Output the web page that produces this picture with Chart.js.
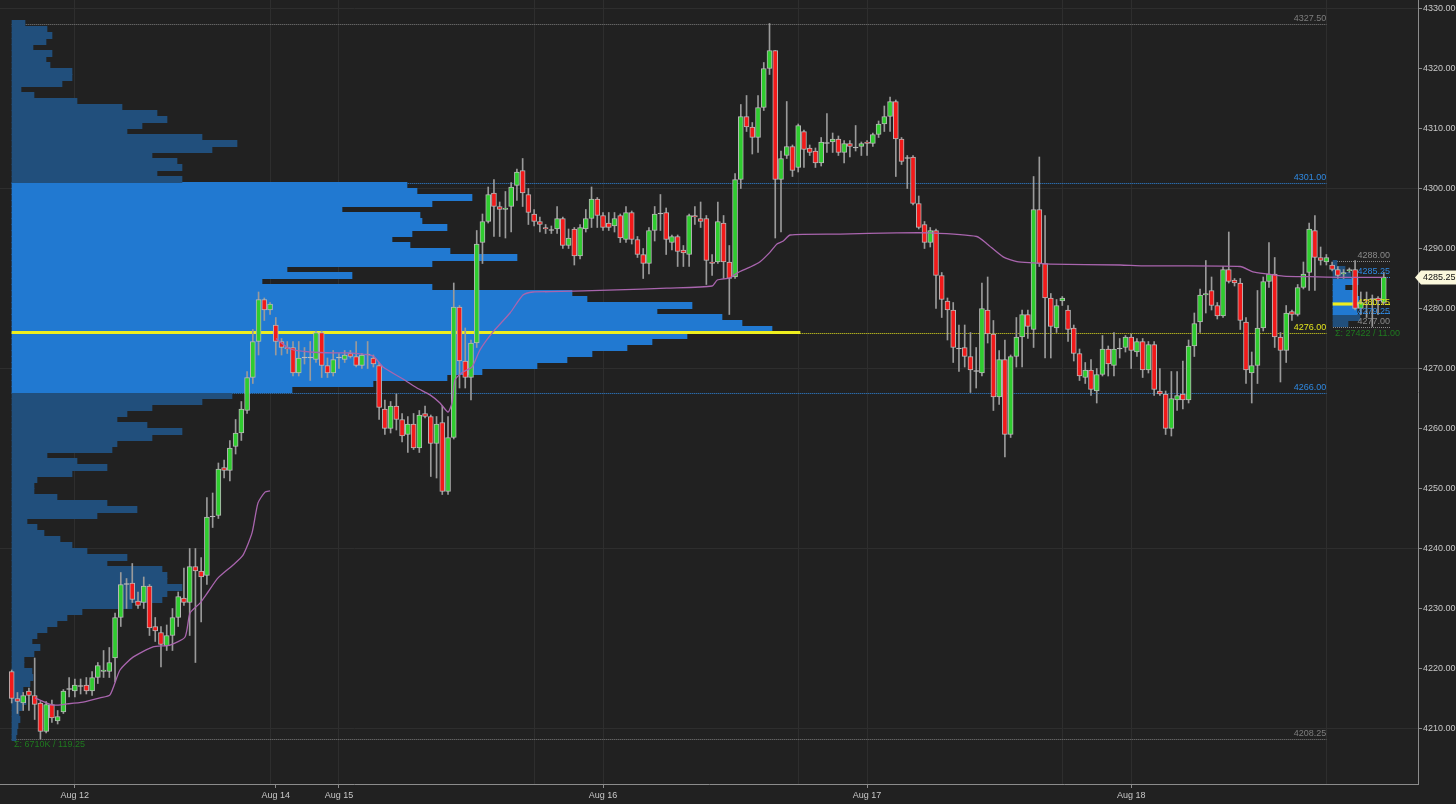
<!DOCTYPE html>
<html>
<head>
<meta charset="utf-8">
<script src="https://cdn.jsdelivr.net/npm/chart.js@4.4.0/dist/chart.umd.min.js"></script>
<style>
  html, body { margin: 0; padding: 0; background: #212121; }
  canvas { display: block; }
</style>
</head>
<body>
<canvas id="esChart" width="1456" height="804"></canvas>
<script>
// 30 min bars
var opens = [
  4219.5, 4215, 4214.25, 4216.25, 4215.5, 4214.25, 4209.5, 4214, 4211.25, 4212.75,
  4216.5, 4216.25, 4217, 4217.25, 4216.25, 4218.5, 4219.5, 4219.5, 4221.75, 4228.5,
  4234, 4234.25, 4231.25, 4231, 4233.75, 4227, 4226, 4223.75, 4225.5, 4228.5,
  4231.75, 4231, 4237, 4236.25, 4235.5, 4245.25, 4245.5, 4253.5, 4253, 4257,
  4259.25, 4263, 4268.5, 4274.5, 4281.5, 4279.75, 4277.25, 4274.5, 4273.5, 4273.5,
  4269.25, 4271.75, 4271.75, 4271.5, 4276, 4270.5, 4269.25, 4271.75, 4271.5, 4272.5,
  4272, 4270.5, 4272.25, 4271.75, 4270.5, 4263.25, 4260, 4263.75, 4261.5, 4259,
  4260.75, 4256.75, 4262.5, 4262, 4257.5, 4261, 4249.5, 4258.5, 4280.25, 4271.25,
  4268.5, 4274.25, 4291, 4294.5, 4299.25, 4297, 4296.5, 4297, 4300.5, 4303,
  4299, 4295.75, 4294.5, 4293.5, 4293, 4293.25, 4295, 4290.5, 4293.25, 4288.75,
  4293.25, 4295, 4298.25, 4295.5, 4294.25, 4293.75, 4295.5, 4291.5, 4296, 4291.5,
  4289, 4287.5, 4293, 4295.75, 4296, 4291, 4292, 4289.75, 4289, 4295.5,
  4295, 4295, 4287.75, 4287.75, 4294.25, 4287.75, 4285.25, 4301.5, 4312, 4310.25,
  4308.5, 4313.5, 4320, 4323, 4301.5, 4305.5, 4307, 4303.5, 4309.5, 4306.75,
  4306.25, 4304.25, 4307.5, 4307.75, 4308.25, 4306, 4307.5, 4306.75, 4307, 4307.75,
  4307.5, 4309, 4310.75, 4312, 4314.5, 4308.25, 4305, 4305.25, 4297.5, 4294,
  4291, 4293, 4285.5, 4281.25, 4279.75, 4273.25, 4273.5, 4272, 4269.5, 4269.25,
  4279.75, 4275.75, 4265.25, 4271.5, 4259, 4272, 4275.25, 4279, 4276.5, 4296.5,
  4287.5, 4281.75, 4276.75, 4281.25, 4279.75, 4276.75, 4272.5, 4268.5, 4269.75, 4266.25,
  4269, 4273.25, 4270.5, 4273.25, 4273.5, 4275.25, 4272.75, 4274.5, 4269.75, 4274,
  4266.25, 4265.75, 4260, 4264.75, 4265.75, 4264.75, 4273.75, 4277.75, 4282.25, 4283,
  4280.5, 4278.75, 4286.5, 4284.75, 4284.25, 4277.75, 4269.25, 4270.5, 4276.75, 4284.5,
  4285.75, 4275.25, 4273, 4279.5, 4279, 4283.5, 4286, 4293, 4288.5, 4287.75,
  4287.25, 4286.5, 4285.75, 4286.25, 4286.5, 4280, 4281.5, 4281.5, 4281.75, 4281
];
var highs = [
  4219.75, 4216, 4216, 4216.75, 4221.75, 4214.5, 4214.5, 4214.75, 4213, 4216.5,
  4218.5, 4218.25, 4218.25, 4218.5, 4219.5, 4221, 4223, 4223.5, 4229.25, 4236,
  4235, 4237.5, 4232.75, 4235.25, 4234, 4228.5, 4227, 4227.25, 4230, 4232.75,
  4236.75, 4240, 4240, 4238.5, 4248.5, 4249.25, 4254.25, 4254.75, 4258, 4261.5,
  4264.5, 4269.5, 4276.5, 4282.75, 4281.75, 4281, 4278.5, 4275, 4274.5, 4274.5,
  4274.5, 4273.5, 4274.5, 4276.25, 4276.25, 4271.75, 4273, 4272.5, 4273, 4273,
  4274.5, 4272.5, 4274.5, 4272.25, 4271, 4264.75, 4264.5, 4265.75, 4262.5, 4262,
  4262.5, 4263, 4263.75, 4262.25, 4262, 4263.75, 4262, 4284.25, 4280.5, 4276.75,
  4274.75, 4293, 4295.75, 4300.25, 4301.5, 4297.75, 4299.5, 4301, 4303.25, 4305,
  4300, 4296.5, 4295.25, 4294, 4293.75, 4297, 4295.25, 4293.25, 4293.5, 4294,
  4296.5, 4300.25, 4298.5, 4296, 4296, 4296, 4295.75, 4297, 4296.25, 4292,
  4290, 4293.5, 4297, 4299, 4296.75, 4292.25, 4292.25, 4290.5, 4295.75, 4297,
  4297.75, 4295.5, 4289, 4297.75, 4295.5, 4290.5, 4302.5, 4314, 4315.5, 4311,
  4315.5, 4321, 4327.5, 4323, 4306.25, 4314.5, 4307.25, 4310.75, 4309.75, 4307.25,
  4306.75, 4308.5, 4312.5, 4309.25, 4308.75, 4308, 4308, 4310.5, 4307.75, 4308,
  4309.25, 4311.25, 4313.75, 4315.25, 4314.75, 4308.5, 4305.5, 4305.5, 4298.75, 4294.5,
  4293.5, 4293.25, 4286, 4281.75, 4281, 4277.25, 4277.25, 4276, 4273.5, 4284.25,
  4285.25, 4278, 4273, 4274.75, 4272.25, 4278.5, 4279.75, 4279.75, 4302, 4305.25,
  4295.5, 4282.5, 4281.5, 4282, 4280.5, 4277.25, 4273.25, 4271, 4271.5, 4270,
  4275.5, 4273.75, 4276, 4275, 4275.5, 4275.75, 4275, 4275, 4274.5, 4274.5,
  4270, 4266.25, 4269.5, 4269.5, 4271.25, 4274.75, 4279.25, 4283.25, 4288, 4285.25,
  4281, 4287, 4292.75, 4285, 4285, 4278.5, 4272.75, 4283, 4285.25, 4291,
  4288.5, 4276, 4280.5, 4279.75, 4284, 4287.75, 4294.25, 4295.5, 4290.25, 4289,
  4287.75, 4287, 4286.5, 4286.75, 4288, 4282.75, 4282.75, 4282.25, 4282, 4286
];
var lows = [
  4214.25, 4212.5, 4213, 4213, 4211.5, 4208.25, 4209.25, 4211, 4210.75, 4212.5,
  4215.25, 4215.25, 4215.75, 4215.75, 4215.5, 4217.5, 4218.5, 4218.5, 4217.75, 4227,
  4230, 4231, 4230, 4230, 4225.5, 4224.5, 4220.25, 4223, 4223, 4227,
  4230.5, 4225.5, 4221, 4227.75, 4234, 4243.5, 4245, 4251.75, 4251.25, 4255.75,
  4258, 4262.5, 4267.5, 4272.25, 4278, 4279, 4272.25, 4272.25, 4272.5, 4268.75,
  4268.75, 4270.75, 4268, 4271, 4268.5, 4268.5, 4268.75, 4270, 4271, 4271.75,
  4270.25, 4270, 4270, 4270.25, 4261.5, 4259, 4259.25, 4259.75, 4257.75, 4256,
  4256.5, 4256, 4261.75, 4252, 4251.75, 4249, 4249, 4258.25, 4266.75, 4266.75,
  4264.75, 4273.5, 4287.5, 4294.25, 4292, 4292, 4291.75, 4292.75, 4298, 4297,
  4294, 4293.75, 4292.75, 4292.5, 4292.5, 4292.5, 4290, 4290, 4287.25, 4288.25,
  4292.75, 4293.5, 4293.5, 4293, 4293, 4292.75, 4291, 4291, 4290.75, 4288.5,
  4285, 4285.75, 4291.25, 4293, 4289, 4289.75, 4287, 4287, 4287, 4294,
  4293.5, 4284, 4285.5, 4287.5, 4285, 4279, 4285, 4300, 4309.5, 4305.75,
  4306, 4313, 4319, 4291.75, 4292.75, 4305, 4302, 4302.75, 4303.5, 4305.5,
  4303.5, 4303.75, 4306, 4306, 4305.5, 4304.25, 4305.25, 4306.25, 4305.5, 4305.5,
  4307, 4308.5, 4309.5, 4309.5, 4302, 4304, 4300, 4297.25, 4293.25, 4290,
  4290.25, 4280, 4278.5, 4274.75, 4271, 4269.5, 4270.25, 4266, 4266.75, 4268.75,
  4274.25, 4263, 4264, 4255.25, 4258.5, 4270.25, 4270.25, 4275, 4273.5, 4287,
  4271.75, 4271.75, 4276, 4280.5, 4274.5, 4271.25, 4268, 4267.5, 4265.5, 4264.25,
  4268.75, 4268.75, 4268.75, 4271.75, 4272.75, 4270, 4272, 4268.5, 4269.25, 4265.5,
  4265.5, 4259, 4258.75, 4263, 4263.25, 4264.25, 4272, 4276, 4279.25, 4279.75,
  4278.25, 4278.5, 4284.25, 4283.75, 4276.5, 4267.5, 4264.25, 4267.5, 4276.25, 4283.5,
  4273.5, 4267.75, 4271, 4278, 4278.75, 4283.25, 4283, 4283, 4287.25, 4287.25,
  4286.25, 4285, 4285, 4286, 4279.75, 4279, 4278.5, 4277, 4279, 4280.75
];
var closes = [
  4215, 4214.5, 4215.5, 4215.5, 4214, 4209.5, 4214, 4211.75, 4212, 4216.25,
  4216.5, 4217.25, 4217, 4216.25, 4218.5, 4220.5, 4219.75, 4221, 4228.5, 4234,
  4234, 4231.5, 4230.5, 4233.75, 4226.75, 4226.25, 4224, 4225.5, 4228.5, 4232,
  4231, 4237, 4236.25, 4235.25, 4245.25, 4245.25, 4253.25, 4253, 4256.75, 4259.25,
  4263.25, 4268.5, 4274.5, 4281.5, 4279.75, 4280.75, 4274.5, 4273.5, 4273.25, 4269.25,
  4271.75, 4271.75, 4271.75, 4276, 4270.5, 4269.25, 4271.5, 4271.75, 4272.25, 4272,
  4270.5, 4272.25, 4272.25, 4270.75, 4263.5, 4260, 4263.75, 4261.5, 4258.75, 4260.75,
  4256.75, 4262.25, 4262, 4257.5, 4260.75, 4249.5, 4258.5, 4280.25, 4271.25, 4268.5,
  4274.25, 4290.75, 4294.5, 4299, 4297, 4296.5, 4296.75, 4300.25, 4302.75, 4299.25,
  4296, 4294.5, 4294, 4293.25, 4293, 4295, 4290.5, 4291.75, 4288.75, 4293.5,
  4295, 4298.25, 4295.5, 4293.5, 4293.5, 4295, 4291.75, 4296, 4291.5, 4289,
  4287.5, 4293, 4295.75, 4295.75, 4291.5, 4292, 4289.5, 4289.25, 4295.5, 4295.25,
  4294.5, 4288, 4287.5, 4294.5, 4287.75, 4285, 4301.5, 4312, 4310.25, 4308.5,
  4313.5, 4320, 4323, 4301.5, 4305, 4307, 4303, 4310.5, 4306.5, 4306,
  4304.25, 4307.75, 4307.5, 4308.25, 4306, 4307.5, 4307, 4306.75, 4307.5, 4307.5,
  4309, 4310.75, 4312, 4314.5, 4308.25, 4304.5, 4305, 4297.5, 4293.5, 4291,
  4293, 4285.5, 4281.5, 4279.75, 4273.5, 4273.25, 4272, 4269.75, 4269.5, 4280,
  4275.75, 4265.25, 4271.5, 4259, 4272, 4275.25, 4279, 4277, 4296.5, 4287.5,
  4281.75, 4277, 4280.5, 4281.75, 4276.5, 4272.5, 4268.75, 4269.75, 4266.5, 4269,
  4273.25, 4270.75, 4273.25, 4273.25, 4275.25, 4273, 4274.5, 4269.75, 4274, 4266.5,
  4265.75, 4260, 4265, 4265.5, 4264.75, 4273.75, 4277.5, 4282.25, 4282.5, 4280.5,
  4278.75, 4286.5, 4284.5, 4284.25, 4278, 4269.75, 4270.5, 4276.75, 4284.5, 4285.75,
  4275.25, 4273, 4279.25, 4279, 4283.5, 4285.75, 4293.25, 4288.5, 4288, 4288.5,
  4286.5, 4285.5, 4286, 4286.5, 4280, 4281, 4281.25, 4281.5, 4281.25, 4285.25
];

// axis labels, in bar units
var dayLabels = ['Aug 12', 'Aug 14', 'Aug 15', 'Aug 16', 'Aug 17', 'Aug 18'];
var dayBars = [11, 46, 57, 103, 149, 195];
var gridBars = [11, 45, 57, 91, 103, 137, 149, 183, 195, 229];
var priceTicks = [4210, 4220, 4230, 4240, 4250, 4260, 4270, 4280, 4290, 4300, 4310, 4320, 4330];
var priceGrid = [4210, 4240, 4270, 4300, 4330];

// vwap lines (bar position, price)
var vwap1Bars = [4.06, 7.19, 9.63, 12.42, 15.38, 17.12, 18.86, 21.13, 24.61, 27.58, 30.19, 31.06, 32.8, 34.19, 35.94, 38.55, 40.29, 41.86, 42.9, 44.12, 44.99];
var vwap1 = [4215.1, 4213.9, 4214.1, 4214.4, 4215.1, 4215.6, 4219.75, 4221.9, 4223.6, 4223.9, 4225.25, 4229.25, 4230.9, 4232.75, 4235.1, 4237.25, 4238.9, 4242.6, 4247.6, 4249.4, 4249.6];
var vwap2Bars = [46.04, 48.48, 51.96, 56.66, 58.92, 62.93, 64.67, 68.16, 70.6, 72.86, 74.6, 76.0, 76.69, 77.22, 78.61, 80.18, 81.57, 83.84, 86.8, 89.06, 90.8, 93.77, 105.4, 114.1, 122.0, 122.9, 125.1, 126.3, 128.6, 130.3, 132.1, 133.3, 134.4, 135.6, 144.3, 154.2, 159.95, 168.1, 169.9, 172.7, 175.1, 177.9, 180.9, 193.1, 197.06, 214.0, 216.2, 218.7, 221.5, 226.1, 231.9, 238.9];
var vwap2 = [4275.0, 4273.25, 4272.75, 4272.6, 4272.6, 4272.1, 4270.25, 4268.25, 4266.75, 4265.6, 4264.25, 4262.75, 4264.25, 4268.1, 4269.4, 4270.25, 4273.1, 4276.1, 4279.25, 4282.25, 4282.75, 4282.8, 4283.1, 4283.4, 4283.75, 4284.75, 4285.1, 4285.9, 4286.9, 4287.75, 4289.4, 4290.75, 4291.25, 4292.25, 4292.4, 4292.6, 4292.6, 4292.0, 4290.75, 4288.6, 4287.8, 4287.6, 4287.4, 4287.25, 4287.1, 4287.0, 4286.1, 4285.75, 4285.4, 4285.3, 4285.2, 4285.2];

// composite volume profile, one row per point starting at 4208 (lengths in px)
var profileLow = 4208;
var profileVol = [
  4, 5, 6, 8, 7, 10, 14, 10, 11, 18,
  21, 20, 12, 12, 22, 28, 20, 25, 35, 45,
  55, 70, 120, 150, 155, 170, 155, 155, 150, 95,
  115, 75, 60, 48, 32, 25, 15, 85, 125, 95,
  45, 22, 22, 25, 60, 95, 65, 35, 100, 105,
  140, 170, 135, 105, 115, 140, 190, 220, 280, 361,
  435, 470, 525, 555, 580, 615, 640, 675, 760, 730,
  710, 645, 680, 575, 560, 420, 250, 340, 275, 420,
  505, 438, 398, 380, 400, 435, 410, 408, 330, 420,
  460, 405, 395, 170, 145, 170, 165, 140, 200, 225,
  190, 115, 130, 155, 145, 110, 65, 22, 9, 50,
  60, 60, 38, 34, 40, 21, 34, 40, 35, 13
];
var valueArea = [4266, 4301];

// developing profile of the last session
var dayProfileLow = 4277;
var dayProfileVol = [15, 27, 24, 23, 26, 20, 12, 25, 18, 12, 4];
var dayValueArea = [4279.25, 4285.25];

// point of control rows
var pocPrices = [4276, 4280.75];
var pocStart = [0, 1321];
var pocLen = [788, 30];

// reference levels
var refLevels = [4327.5, 4301, 4276, 4266, 4208.25];
var refLabels = ['4327.50', '4301.00', '4276.00', '4266.00', '4208.25'];
var refColors = ['#7e7e7e', '#2f88e0', '#e4e41e', '#2f88e0', '#7e7e7e'];
var dayLevels = [4288, 4285.25, 4280.75, 4279.25, 4277];
var dayLevelLabels = ['4288.00', '4285.25', '4280.75', '4279.25', '4277.00'];
var dayLevelColors = ['#8a8a8a', '#2f88e0', '#e4e41e', '#2f88e0', '#8a8a8a'];
var lastPrice = 4285.25;

var green = '#2fcc2f', red = '#f21a1a', doji = '#cfcfcf';
var brightBlue = '#2179d1', darkBlue = '#214f7c';

var bars = opens.map(function (o, i) { return i; });

function candleColor(i) {
    if (closes[i] > opens[i]) return green;
    if (closes[i] < opens[i]) return red;
    return doji;
}

var profileData = profileVol.map(function (v, k) {
    return { x: v, y: profileLow + k + 0.5 };
});
var profileColors = profileVol.map(function (v, k) {
    var mid = profileLow + k + 0.5;
    return (mid > valueArea[0] && mid < valueArea[1]) ? brightBlue : darkBlue;
});
var dayProfileData = dayProfileVol.map(function (v, k) {
    return { x: [pocStart[1], pocStart[1] + v], y: dayProfileLow + k + 0.5 };
});
var dayProfileColors = dayProfileVol.map(function (v, k) {
    var mid = dayProfileLow + k + 0.5;
    return (mid > dayValueArea[0] && mid < dayValueArea[1]) ? brightBlue : darkBlue;
});

var overlay = {
    id: 'overlay',
    beforeDraw: function (chart) {
        var c = chart.ctx;
        c.save();
        c.fillStyle = '#212121';
        c.fillRect(0, 0, chart.width, chart.height);
        c.restore();
    },
    beforeDatasetsDraw: function (chart) {
        var c = chart.ctx, xs = chart.scales.x, ys = chart.scales.y, xp = chart.scales.xp;
        c.save();
        c.lineWidth = 1;
        c.setLineDash([1, 1]);
        refLevels.forEach(function (p, k) {
            var y = Math.round(ys.getPixelForValue(p)) + 0.5;
            c.strokeStyle = refColors[k];
            c.beginPath();
            c.moveTo(xs.getPixelForValue(0), y);
            c.lineTo(xs.getPixelForValue(gridBars[gridBars.length - 1]), y);
            c.stroke();
        });
        dayLevels.forEach(function (p, k) {
            var y = Math.round(ys.getPixelForValue(p)) + 0.5;
            c.strokeStyle = dayLevelColors[k];
            c.beginPath();
            c.moveTo(xp.getPixelForValue(pocStart[1]), y);
            c.lineTo(xp.getPixelForValue(pocStart[1] + 57), y);
            c.stroke();
        });
        c.restore();
    },
    afterDraw: function (chart) {
        var c = chart.ctx, xs = chart.scales.x, ys = chart.scales.y, xp = chart.scales.xp;
        c.save();
        c.font = '9px "Liberation Sans", Arial, sans-serif';
        c.textAlign = 'right';
        c.textBaseline = 'bottom';
        var xEnd = xs.getPixelForValue(gridBars[gridBars.length - 1]);
        refLevels.forEach(function (p, k) {
            c.fillStyle = refColors[k];
            c.fillText(refLabels[k], xEnd, ys.getPixelForValue(p) - 0.5);
        });
        var dEnd = xp.getPixelForValue(pocStart[1] + 57);
        dayLevels.forEach(function (p, k) {
            c.fillStyle = dayLevelColors[k];
            var off = (k === 2 || k === 3) ? 3 : -0.5;
            c.fillText(dayLevelLabels[k], dEnd, ys.getPixelForValue(p) + off);
        });

        c.textAlign = 'left';
        c.textBaseline = 'middle';
        c.fillStyle = '#1f7a1f';
        c.fillText('\u03a3: 6710K / 119.25', 14, ys.getPixelForValue(refLevels[4]) + 6);
        c.fillText('\u03a3: 27422 / 11.00', xp.getPixelForValue(pocStart[1]) + 2, ys.getPixelForValue(dayLevels[4]) + 7);

        // last price tag on the axis
        var ty = Math.round(ys.getPixelForValue(lastPrice)) + 0.5;
        var x0 = chart.chartArea.right - 3;
        c.fillStyle = '#fbf8dc';
        c.beginPath();
        c.moveTo(x0, ty);
        c.lineTo(x0 + 6, ty - 7);
        c.lineTo(chart.width, ty - 7);
        c.lineTo(chart.width, ty + 7);
        c.lineTo(x0 + 6, ty + 7);
        c.closePath();
        c.fill();
        c.fillStyle = '#111';
        c.fillText(lastPrice.toFixed(2), x0 + 8, ty);
        c.restore();
    }
};

var ctx = document.getElementById('esChart').getContext('2d');

var tickBars = gridBars.concat(dayBars).filter(function (v, k, a) {
    return a.indexOf(v) === k;
}).sort(function (a, b) { return a - b; });

function noPadding(s) {
    s.paddingTop = 0;
    s.paddingBottom = 0;
    s.paddingLeft = 0;
    s.paddingRight = 0;
}

var chart = new Chart(ctx, {
    type: 'bar',
    data: {
        datasets: [
            {
                label: 'vwap 1',
                type: 'line',
                data: vwap1Bars.map(function (b, k) { return { x: b, y: vwap1[k] }; }),
                borderColor: '#a965ae',
                borderWidth: 1.3,
                pointRadius: 0,
                tension: 0.2,
                order: 0
            },
            {
                label: 'vwap 2',
                type: 'line',
                data: vwap2Bars.map(function (b, k) { return { x: b, y: vwap2[k] }; }),
                borderColor: '#a965ae',
                borderWidth: 1.3,
                pointRadius: 0,
                tension: 0.2,
                order: 0
            },
            {
                label: 'bodies',
                data: bars.map(function (i) { return { x: i, y: [opens[i], closes[i]] }; }),
                backgroundColor: bars.map(candleColor),
                borderColor: '#b8b8b8',
                borderWidth: 1,
                borderSkipped: false,
                barThickness: 5,
                minBarLength: 1,
                grouped: false,
                order: 1
            },
            {
                label: 'wicks',
                data: bars.map(function (i) { return { x: i, y: [lows[i], highs[i]] }; }),
                backgroundColor: '#9a9a9a',
                barThickness: 1,
                grouped: false,
                order: 2
            },
            {
                label: 'poc',
                indexAxis: 'y',
                xAxisID: 'xp',
                data: pocPrices.map(function (p, k) { return { x: [pocStart[k], pocStart[k] + pocLen[k]], y: p }; }),
                backgroundColor: '#eeee1e',
                barThickness: 2.5,
                grouped: false,
                order: 3
            },
            {
                label: 'profile',
                indexAxis: 'y',
                xAxisID: 'xp',
                data: profileData,
                backgroundColor: profileColors,
                barThickness: 6.3,
                grouped: false,
                order: 4
            },
            {
                label: 'day profile',
                indexAxis: 'y',
                xAxisID: 'xp',
                data: dayProfileData,
                backgroundColor: dayProfileColors,
                barThickness: 6.3,
                grouped: false,
                order: 4
            }
        ]
    },
    options: {
        responsive: false,
        animation: false,
        devicePixelRatio: 1,
        layout: { padding: 0 },
        plugins: {
            legend: { display: false },
            tooltip: { enabled: false }
        },
        scales: {
            x: {
                type: 'linear',
                position: 'bottom',
                min: -2.04,
                max: 244.96,
                offset: false,
                afterBuildTicks: function (axis) {
                    axis.ticks = tickBars.map(function (v) { return { value: v }; });
                },
                afterFit: function (s) { s.height = 20; noPadding(s); },
                grid: {
                    offset: false,
                    color: function (c) {
                        return c.tick && gridBars.indexOf(c.tick.value) >= 0 ? '#2e2e2e' : 'rgba(0,0,0,0)';
                    },
                    tickColor: function (c) {
                        return c.tick && dayBars.indexOf(c.tick.value) >= 0 ? '#8c8c8c' : 'rgba(0,0,0,0)';
                    },
                    tickLength: 4
                },
                border: { display: true, color: '#8c8c8c' },
                ticks: {
                    autoSkip: false,
                    maxRotation: 0,
                    padding: 2,
                    color: '#c8c8c8',
                    font: { family: '"Liberation Sans", Arial, sans-serif', size: 9 },
                    callback: function (v) {
                        var k = dayBars.indexOf(v);
                        return k >= 0 ? dayLabels[k] : '';
                    }
                }
            },
            xp: {
                type: 'linear',
                axis: 'x',
                position: 'bottom',
                display: false,
                offset: false,
                grid: { offset: false },
                min: -12,
                max: 1406
            },
            y: {
                type: 'linear',
                position: 'right',
                min: 4200.75,
                max: 4331.4167,
                beginAtZero: false,
                offset: false,
                afterBuildTicks: function (axis) {
                    axis.ticks = priceTicks.map(function (v) { return { value: v }; });
                },
                afterFit: function (s) { s.width = 38; noPadding(s); },
                grid: {
                    offset: false,
                    color: function (c) {
                        return c.tick && priceGrid.indexOf(c.tick.value) >= 0 ? '#2e2e2e' : 'rgba(0,0,0,0)';
                    },
                    tickColor: '#8c8c8c',
                    tickLength: 4
                },
                border: { display: true, color: '#8c8c8c' },
                ticks: {
                    padding: 1,
                    color: '#c8c8c8',
                    font: { family: '"Liberation Sans", Arial, sans-serif', size: 9 },
                    callback: function (v) { return v.toFixed(2); }
                }
            }
        }
    },
    plugins: [overlay]
});
</script>
</body>
</html>
